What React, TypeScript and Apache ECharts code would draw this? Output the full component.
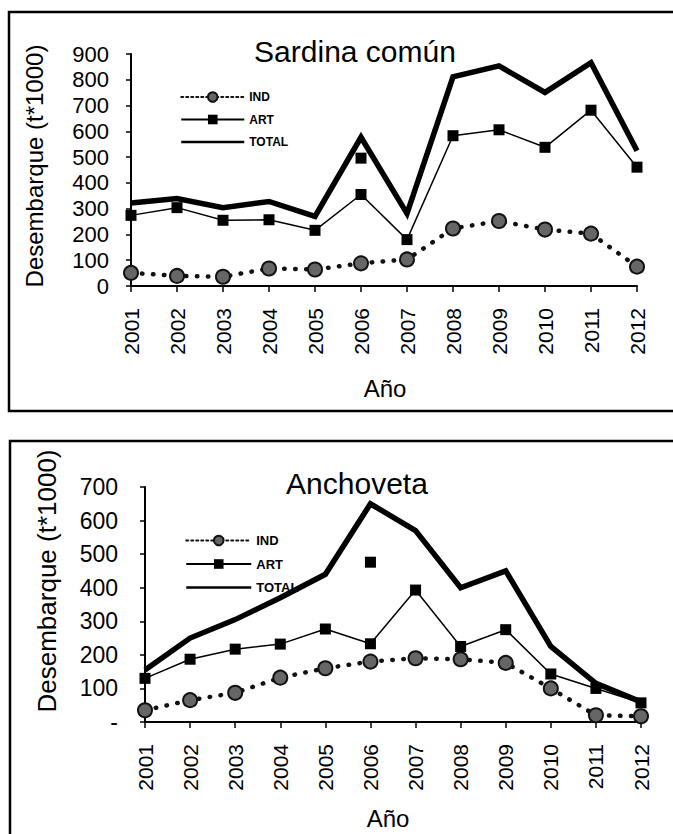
import React, { useEffect, useRef } from "react";
import * as echarts from "echarts";

const years = ["2001", "2002", "2003", "2004", "2005", "2006", "2007", "2008", "2009", "2010", "2011", "2012"];

const sardinaTotal = [322, 339, 304, 328, 270, 577, 281, 811, 854, 751, 866, 525];
const sardinaArt = [274, 304, 255, 257, 216, 355, 180, 583, 606, 538, 682, 461];
const sardinaInd = [51, 39, 36, 68, 64, 88, 103, 223, 252, 219, 203, 75];
const sardinaArtExtra = [null, null, null, null, null, 496, null, null, null, null, null, null];

const anchovetaTotal = [155, 250, 305, 370, 440, 650, 570, 400, 450, 225, 115, 60];
const anchovetaArt = [130, 187, 217, 232, 277, 233, 393, 225, 275, 143, 100, 57];
const anchovetaInd = [35, 65, 87, 132, 160, 180, 190, 187, 176, 100, 20, 17];
const anchovetaArtExtra = [null, null, null, null, null, 476, null, null, null, null, null, null];

const titles = ["Sardina común", "Anchoveta"];
const yName = "Desembarque (t*1000)";
const xName = "Año";

const FONT = "Liberation Sans, Arial, Helvetica, sans-serif";

function seriesFor(idx: number, total: number[], art: number[], ind: number[], extra: (number | null)[]) {
  return [
    {
      name: "IND",
      type: "line",
      xAxisIndex: idx,
      yAxisIndex: idx,
      data: ind,
      symbol: "circle",
      symbolSize: 14,
      itemStyle: { color: "#666", borderColor: "#111", borderWidth: 2 },
      lineStyle: { color: "#111", width: 4.5, type: [0.5, 10.5], cap: "round" },
      z: 3,
    },
    {
      name: "ART",
      type: "line",
      xAxisIndex: idx,
      yAxisIndex: idx,
      data: art,
      symbol: "rect",
      symbolSize: 11,
      itemStyle: { color: "#000" },
      lineStyle: { color: "#000", width: 1.5 },
      z: 4,
    },
    {
      name: "TOTAL",
      type: "line",
      xAxisIndex: idx,
      yAxisIndex: idx,
      data: total,
      symbol: "none",
      lineStyle: { color: "#000", width: 5.5, join: "miter" },
      itemStyle: { color: "#000" },
      z: 2,
    },
    {
      name: "ART extra",
      type: "scatter",
      xAxisIndex: idx,
      yAxisIndex: idx,
      data: extra,
      symbol: "rect",
      symbolSize: 11,
      itemStyle: { color: "#000", opacity: 1 },
      z: 4,
    },
  ];
}

export default function App() {
  const ref = useRef<HTMLDivElement>(null);
  useEffect(() => {
    if (!ref.current) return;
    const chart = echarts.init(ref.current, null, { renderer: "svg" });
    const axisCommonX = (gridIndex: number) => ({
      type: "category",
      gridIndex,
      data: years,
      boundaryGap: false,
      axisLine: { lineStyle: { color: "#000", width: 2 } },
      axisTick: { show: true, alignWithLabel: true, length: 6, lineStyle: { color: "#000", width: 1.5 } },
      axisLabel: { rotate: 90, color: "#000", fontSize: 21, fontFamily: FONT, margin: 22, interval: 0 },
      splitLine: { show: false },
    });
    const legendData = () => [
      { name: "IND", lineStyle: { width: 2, type: [2, 3] } },
      { name: "ART", lineStyle: { width: 2 } },
      { name: "TOTAL", lineStyle: { width: 2.5 }, itemStyle: { opacity: 0 } },
    ];
    const option: any = {
      animation: false,
      backgroundColor: "#fff",
      title: [
        {
          text: titles[0],
          left: 350,
          top: 31,
          textAlign: "center",
          textStyle: { fontSize: 30, fontWeight: "normal", color: "#000", fontFamily: FONT },
        },
        {
          text: titles[1],
          left: 352,
          top: 463,
          textAlign: "center",
          textStyle: { fontSize: 30, fontWeight: "normal", color: "#000", fontFamily: FONT },
        },
      ],
      legend: [
        {
          data: legendData(),
          orient: "vertical",
          left: 175,
          top: 86,
          itemWidth: 63,
          itemHeight: 12,
          itemGap: 10.5,
          textStyle: { fontSize: 12, fontWeight: "bold", color: "#000", fontFamily: FONT },
          selectedMode: false,
        },
        {
          data: legendData(),
          orient: "vertical",
          left: 180,
          top: 529,
          itemWidth: 65,
          itemHeight: 12,
          itemGap: 10.5,
          textStyle: { fontSize: 13, fontWeight: "bold", color: "#000", fontFamily: FONT },
          selectedMode: false,
        },
      ],
      grid: [
        { left: 131, right: 36, top: 54, height: 232 },
        { left: 145, right: 32, top: 487, height: 235 },
      ],
      xAxis: [axisCommonX(0), axisCommonX(1)],
      yAxis: [
        {
          type: "value",
          gridIndex: 0,
          min: 0,
          max: 900,
          interval: 100,
          axisLine: { show: true, lineStyle: { color: "#000", width: 2 } },
          axisTick: { show: true, length: 5, lineStyle: { color: "#000", width: 1.5 } },
          axisLabel: { color: "#000", fontSize: 22, fontFamily: FONT, margin: 22 },
          splitLine: { show: false },
        },
        {
          type: "value",
          gridIndex: 1,
          min: 0,
          max: 700,
          interval: 100,
          axisLine: { show: true, lineStyle: { color: "#000", width: 2 } },
          axisTick: { show: true, length: 5, lineStyle: { color: "#000", width: 1.5 } },
          axisLabel: {
            color: "#000",
            fontSize: 23,
            fontFamily: FONT,
            margin: 27,
            formatter: (v: number) => (v === 0 ? "-" : String(v)),
          },
          splitLine: { show: false },
        },
      ],
      graphic: [
        {
          type: "rect",
          shape: { x: 9, y: 12, width: 700, height: 399 },
          style: { fill: "none", stroke: "#000", lineWidth: 2.5 },
          silent: true,
          z: -1,
        },
        {
          type: "rect",
          shape: { x: 10, y: 441, width: 700, height: 450 },
          style: { fill: "none", stroke: "#000", lineWidth: 2.5 },
          silent: true,
          z: -1,
        },
        {
          type: "text",
          x: 34,
          y: 166,
          rotation: Math.PI / 2,
          style: { text: yName, fontSize: 24, fontFamily: FONT, fill: "#000", textAlign: "center", textVerticalAlign: "middle" },
        },
        {
          type: "text",
          x: 47,
          y: 581,
          rotation: Math.PI / 2,
          style: { text: yName, fontSize: 26, fontFamily: FONT, fill: "#000", textAlign: "center", textVerticalAlign: "middle" },
        },
        {
          type: "text",
          x: 385,
          y: 388,
          style: { text: xName, fontSize: 24, fontFamily: FONT, fill: "#000", textAlign: "center", textVerticalAlign: "middle" },
        },
        {
          type: "text",
          x: 388,
          y: 818,
          style: { text: xName, fontSize: 24, fontFamily: FONT, fill: "#000", textAlign: "center", textVerticalAlign: "middle" },
        },
      ],
      series: [
        ...seriesFor(0, sardinaTotal, sardinaArt, sardinaInd, sardinaArtExtra),
        ...seriesFor(1, anchovetaTotal, anchovetaArt, anchovetaInd, anchovetaArtExtra),
      ],
    };
    chart.setOption(option);
    return () => chart.dispose();
  }, []);
  return (
    <div
      ref={ref}
      style={{ position: "fixed", left: 0, top: 0, width: 673, height: 834, background: "#fff" }}
    />
  );
}
